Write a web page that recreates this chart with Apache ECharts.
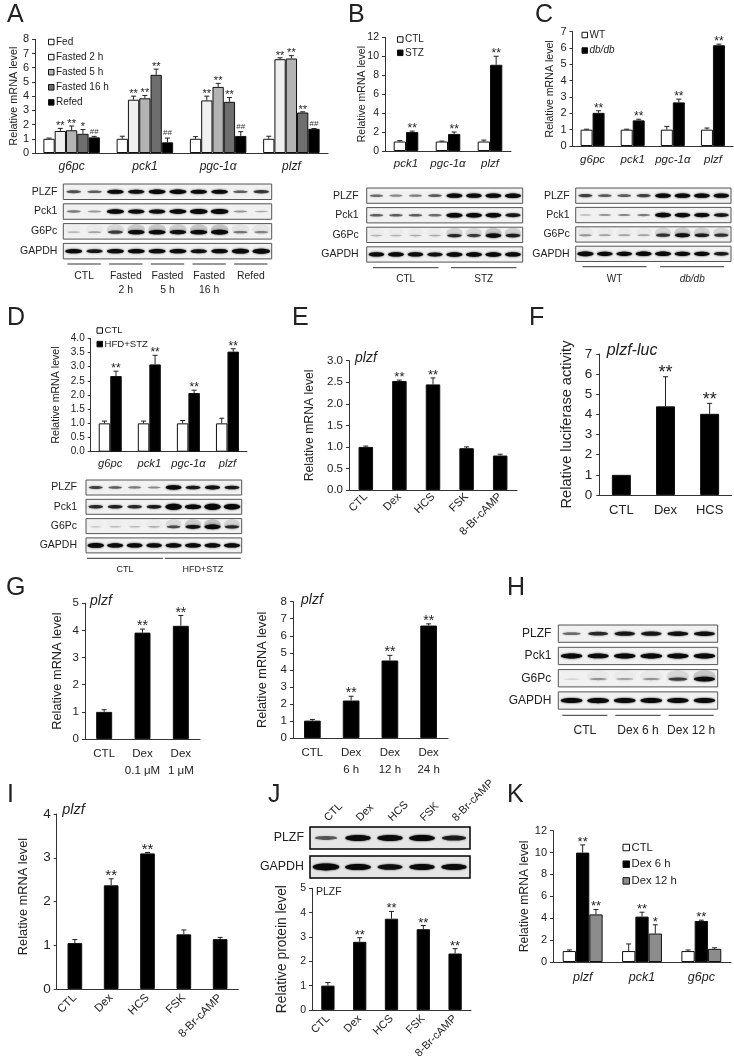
<!DOCTYPE html>
<html><head><meta charset="utf-8">
<style>html,body{margin:0;padding:0;background:#fff}#c{width:734px;height:1061px}</style>
<script src="https://cdn.jsdelivr.net/npm/echarts@6/dist/echarts.min.js"></script>
</head><body><div id="c"></div>
<script>
// ---------- DATA ----------
const genesA = ['g6pc','pck1','pgc-1α','plzf'];
const aFed = [1,1,1,1], aFedErr = [.05,.18,.15,.18];
const aF2 = [1.55,3.75,3.7,6.6], aF2Err = [.18,.25,.3,.1], aF2Sig = ['**','**','**','**'];
const aF5 = [1.6,3.85,4.65,6.65], aF5Err = [.3,.2,.25,.2], aF5Sig = ['**','**','**','**'];
const aF16 = [1.35,5.5,3.6,2.85], aF16Err = [.3,.4,.3,.05], aF16Sig = ['*','**','**','**'];
const aRefed = [1.1,.75,1.2,1.7], aRefedErr = [.07,.3,.3,.02], aRefedSig = ['##','##','##','##'];

const genesB = ['pck1','pgc-1α','plzf'];
const bCtl = [1,1,1], bCtlErr = [.1,.05,.15];
const bStz = [2,1.8,9.1], bStzErr = [.1,.2,.9], bSig = ['**','**','**'];

const genesC = ['g6pc','pck1','pgc-1α','plzf'];
const cWt = [1,1,1,1], cWtErr = [.03,.03,.2,.1];
const cDb = [2.03,1.57,2.67,6.17], cDbErr = [.13,.07,.2,.07], cSig = ['**','**','**','**'];

const dCtl = [1,1,1,1], dCtlErr = [.08,.08,.1,.18];
const dHfd = [2.67,3.08,2.07,3.53], dHfdErr = [.17,.32,.1,.1], dSig = ['**','**','**','**'];

const treatments = ['CTL','Dex','HCS','FSK','8-Br-cAMP'];
const eVals = [1,2.53,2.45,.97,.8], eErr = [.02,.02,.15,.03,.03], eSig = ['','**','**','',''];
const fCats = ['CTL','Dex','HCS'];
const fVals = [1,4.4,4.03], fErr = [0,1.47,.52], fSig = ['','**','**'];
const g1Cats = ['CTL','Dex\n0.1 μM','Dex\n1 μM'];
const g1Vals = [1,3.92,4.17], g1Err = [.08,.13,.38], g1Sig = ['','**','**'];
const g2Cats = ['CTL','Dex\n6 h','Dex\n12 h','Dex\n24 h'];
const g2Vals = [1.02,2.2,4.55,6.6], g2Err = [.07,.25,.3,.1], g2Sig = ['','**','**','**'];
const iVals = [1.05,2.37,3.1,1.25,1.14], iErr = [.08,.15,.02,.1,.04], iSig = ['','**','**','',''];
const jVals = [1,2.8,3.75,3.32,2.32], jErr = [.13,.17,.3,.15,.2], jSig = ['','**','**','**','**'];
const genesK = ['plzf','pck1','g6pc'];
const kCtl = [1,1,1], kCtlErr = [.1,.65,.1];
const kD6 = [10,4.15,3.75], kD6Err = [.7,.4,.07], kD6Sig = ['**','**','**'];
const kD12 = [4.35,2.6,1.2], kD12Err = [.45,.8,.1], kD12Sig = ['**','*',''];

const blotRows = ['PLZF','Pck1','G6Pc','GAPDH'];
const blotA = [[.45,.4,.8,.75,.85,.85,.8,.8,.4,.55],[.3,.2,.9,.8,.8,.85,1,1,.2,.12],[.08,.15,.5,.8,.85,.75,.85,.9,.3,.25],[.85,.7,.85,.85,.85,.85,.75,.8,.95,1]];
const blotB = [[.35,.25,.3,.4,.85,.8,.85,.9],[.4,.4,.4,.35,.95,.9,.85,.7],[.1,.1,.12,.12,.6,.5,.85,.65],[.8,.85,.8,.75,.9,.9,.9,.85]];
const blotC = [[.5,.4,.4,.5,.85,.85,.85,.8],[.1,.2,.25,.3,.9,.85,.8,.7],[.2,.15,.15,.15,.55,.75,.65,.55],[1,.85,.85,.9,.9,.85,.85,.7]];
const blotD = [[.5,.4,.3,.25,.85,.7,.75,.7],[.6,.65,.6,.7,1.4,1,1.4,1.2],[.05,.08,.08,.12,.45,.75,.95,.6],[.95,.9,.85,.8,.9,.9,.9,.9]];
const blotH = [[.35,.6,.7,.7,.75,.75],[.85,.8,.85,.9,.85,.85],[.02,.2,.15,.2,.5,.8],[.9,.95,.9,.9,.85,.85]];
const blotJRows = ['PLZF','GAPDH'];
const blotJ = [[.4,.8,.8,.85,.65],[.95,.85,.75,.8,.8]];
const groupsA = [[0,1,'CTL'],[2,3,'Fasted\n2 h'],[4,5,'Fasted\n5 h'],[6,7,'Fasted\n16 h'],[8,9,'Refed']];
const groupsB = [[0,3,'CTL'],[4,7,'STZ']];
const groupsC = [[0,3,'WT'],[4,7,'db/db']];
const groupsD = [[0,3,'CTL'],[4,7,'HFD+STZ']];
const groupsH = [[0,1,'CTL'],[2,3,'Dex 6 h'],[4,5,'Dex 12 h']];

// ---------- BUILDERS ----------
const FONT = 'Liberation Sans', INK = '#222';
const grid = [], xAxis = [], yAxis = [], series = [], legend = [], title = [];

function note(text, x, yc, size, italic) {
  title.push({text, left:x, top:yc-size/2, padding:0, itemGap:0,
    textStyle:{fontFamily:FONT,fontSize:size,fontWeight:'normal',fontStyle:italic?'italic':'normal',color:INK}});
}

function barPanel(p) {
  const g = grid.length, [l,t,r,b] = p.rect;
  grid.push({left:l, top:t, width:r-l, height:b-t});
  xAxis.push({type:'category', gridIndex:g, data:p.cats,
    axisLine:{lineStyle:{color:'#333'}}, axisTick:{show:false},
    axisLabel:{interval:0, fontSize:p.catFont, fontFamily:FONT, color:INK, margin:p.catMargin,
      fontStyle:p.italic?'italic':'normal', rotate:p.rotate||0, lineHeight:p.catLine||undefined, hideOverlap:false}});
  yAxis.push({type:'value', gridIndex:g, min:0, max:p.max, interval:p.step, splitLine:{show:false},
    axisLine:{show:true, lineStyle:{color:'#333'}}, axisTick:{show:true, length:3, lineStyle:{color:'#333'}},
    axisLabel:{fontSize:p.tickFont, fontFamily:FONT, color:INK, margin:p.tickMargin||6,
      formatter:v=>p.decimals?v.toFixed(p.decimals):String(v)},
    name:p.yName, nameLocation:'middle', nameRotate:90, nameMoveOverlap:false,
    nameGap:l-p.nameX-p.nameFont/2,
    nameTextStyle:{fontSize:p.nameFont, fontFamily:FONT, color:INK, padding:p.namePad||0}});
  const n = p.series.length;
  p.series.forEach((s,i)=>{
    series.push({type:'bar', name:s.name, xAxisIndex:g, yAxisIndex:g, data:s.values, barWidth:p.barW, barGap:'0%',
      itemStyle:{color:s.color, borderColor:'#111', borderWidth:1}, silent:true});
    series.push({type:'custom', xAxisIndex:g, yAxisIndex:g, z:5, silent:true,
      data:s.values.map((v,k)=>[k,v,s.errs[k]]),
      encode:{x:0,y:1},
      renderItem:(params,api)=>{
        const k=api.value(0), v=api.value(1), e=api.value(2);
        const off=(i-(n-1)/2)*p.barW, x=api.coord([k,v])[0]+off, y0=api.coord([k,v])[1], y1=api.coord([k,v+e])[1];
        const kids=[];
        const ls={stroke:'#222',lineWidth:1};
        if(e>0){
          kids.push({type:'line',shape:{x1:x,y1:y0,x2:x,y2:y1},style:ls});
          kids.push({type:'line',shape:{x1:x-2.5,y1:y1,x2:x+2.5,y2:y1},style:ls});
        }
        const sig=s.sigs&&s.sigs[k];
        if(sig){
          const hash=sig[0]==='#';
          kids.push({type:'text',style:{text:sig,x,y:y1+(hash?-5:-p.starFont*.2),align:'center',verticalAlign:'middle',
            fontFamily:FONT,fontSize:hash?8:p.starFont,fill:hash?'#333':INK}});
        }
        return {type:'group',children:kids};
      }});
  });
  if(p.legend){
    legend.push({show:true, orient:'vertical', left:p.legend.x, top:p.legend.y, padding:0, itemGap:p.legend.gap,
      itemWidth:p.legend.box, itemHeight:p.legend.box, icon:'rect', selectedMode:false, itemStyle:{borderWidth:1,borderColor:'#111'},
      textStyle:{fontFamily:FONT,fontSize:p.legend.font,color:INK,padding:[0,0,0,-3]},
      data:p.series.map(s=>s.italicName?{name:s.name,textStyle:{fontStyle:'italic'}}:{name:s.name})});
  }
}

function blot(b) {
  const g=grid.length, [l,r]=b.xr, rows=b.rows.length, pitch=b.pitch, h=b.frameH;
  const top=b.y0-(pitch-h)/2;
  grid.push({left:l, top, width:r-l, height:pitch*rows});
  const lanes=b.data[0].map((_,i)=>i);
  xAxis.push({type:'category', gridIndex:g, data:b.topLabels||lanes.map(String), position:'top',
    show:!!b.topLabels, axisLine:{show:false}, axisTick:{show:false},
    axisLabel:{interval:0,rotate:-45,fontSize:11,fontFamily:FONT,color:INK,margin:4,hideOverlap:false}});
  yAxis.push({type:'category', gridIndex:g, inverse:true, data:b.rows, axisLine:{show:false}, axisTick:{show:false},
    axisLabel:{fontSize:b.font,fontFamily:FONT,color:INK,margin:b.labelGap}});
  const cells=[];
  b.data.forEach((row,ri)=>row.forEach((v,li)=>cells.push([li,ri,v])));
  series.push({type:'custom', xAxisIndex:g, yAxisIndex:g, silent:true, data:cells, encode:{x:0,y:1},
    renderItem:(params,api)=>{
      const li=api.value(0), ri=api.value(1), v=api.value(2), c=api.coord([li,ri]), sz=api.size([1,1]), cs=params.coordSys;
      const kids=[];
      if(li===0) kids.push({type:'rect',shape:{x:cs.x,y:c[1]-h/2,width:cs.width,height:h},
        style:{fill:b.bg||'#f1f1f1',stroke:b.frame||'#555',lineWidth:b.frameW||1}});
      const alpha=Math.min(1,.12+v*1.05), dark='rgba(10,10,10,'+alpha+')';
      if(b.rows[ri]==='G6Pc') kids.push({type:'ellipse',shape:{cx:c[0],cy:c[1]-h*.12,rx:sz[0]*.42,ry:h*.34},
        style:{fill:'rgba(40,40,40,'+(v*.22)+')',shadowBlur:3,shadowColor:'rgba(40,40,40,'+(v*.2)+')'}});
      kids.push({type:'ellipse',shape:{cx:c[0],cy:c[1]+(b.rows[ri]==='G6Pc'?h*.05:0),rx:sz[0]*.42*(.72+.28*Math.min(v,1)),ry:h*(.04+.12*v)},
        style:{fill:dark,shadowBlur:2,shadowColor:dark}});
      return {type:'group',children:kids};
    }});
  if(b.groups){
    series.push({type:'custom', xAxisIndex:g, yAxisIndex:g, silent:true, data:b.groups.map((d,i)=>[d[0],d[1],i]),
      encode:{x:0},
      renderItem:(params,api)=>{
        const d=b.groups[api.value(2)], pd=b.groupPad*api.size([1,1])[0];
        const x1=api.coord([d[0],0])[0]-pd, x2=api.coord([d[1],0])[0]+pd, base=b.lineY;
        return {type:'group',children:[
          {type:'line',shape:{x1,y1:base,x2,y2:base},style:{stroke:'#333',lineWidth:1}},
          {type:'text',style:{text:d[2],x:(x1+x2)/2,y:base+b.textDy,align:'center',verticalAlign:'top',
            fontFamily:FONT,fontSize:b.groupFont,lineHeight:b.groupLine||b.groupFont+3,fill:INK,
            fontStyle:d[2]==='db/db'?'italic':'normal'}}
        ]};
      }});
  }
}

// ---------- PANELS ----------
const REL='Relative mRNA level';
barPanel({rect:[35,39.3,328,153],cats:genesA,max:8,step:1,yName:REL,nameX:14,nameFont:10.8,tickFont:11,catFont:12,italic:true,catMargin:8,barW:11.3,starFont:11,
  legend:{x:48,y:37,box:5.5,gap:5.1,font:10},
  series:[{name:'Fed',color:'#fff',values:aFed,errs:aFedErr},
    {name:'Fasted 2 h',color:'#f0f0f0',values:aF2,errs:aF2Err,sigs:aF2Sig},
    {name:'Fasted 5 h',color:'#b3b3b3',values:aF5,errs:aF5Err,sigs:aF5Sig},
    {name:'Fasted 16 h',color:'#6e6e6e',values:aF16,errs:aF16Err,sigs:aF16Sig},
    {name:'Refed',color:'#000',values:aRefed,errs:aRefedErr,sigs:aRefedSig}]});
barPanel({rect:[385,37.3,511,151],cats:genesB,max:12,step:2,yName:REL,nameX:362,nameFont:10.5,tickFont:10.5,catFont:11.5,italic:true,catMargin:7,barW:12.3,starFont:12,
  legend:{x:397,y:34.5,box:5.5,gap:3.3,font:10},
  series:[{name:'CTL',color:'#fff',values:bCtl,errs:bCtlErr},{name:'STZ',color:'#000',values:bStz,errs:bStzErr,sigs:bSig}]});
barPanel({rect:[572.5,31.7,733,146],cats:genesC,max:7,step:1,yName:REL,nameX:550.7,nameFont:10.6,tickFont:11,catFont:11.5,italic:true,catMargin:8,barW:12,starFont:12,
  legend:{x:581.5,y:30,box:5.5,gap:5.5,font:10},
  series:[{name:'WT',color:'#fff',values:cWt,errs:cWtErr},{name:'db/db',italicName:true,color:'#000',values:cDb,errs:cDbErr,sigs:cSig}]});
barPanel({rect:[90.7,338.3,247,451.7],cats:genesC,max:4,step:.5,decimals:1,yName:REL,nameX:56.7,nameFont:10.6,tickFont:10,catFont:11.2,italic:true,catMargin:7,barW:11.5,starFont:12,
  legend:{x:96.5,y:325.5,box:5.5,gap:3.6,font:9.6},
  series:[{name:'CTL',color:'#fff',values:dCtl,errs:dCtlErr},{name:'HFD+STZ',color:'#000',values:dHfd,errs:dHfdErr,sigs:dSig}]});
barPanel({rect:[349,360.7,517,490],cats:treatments,max:3,step:.5,decimals:1,yName:REL,nameX:310,nameFont:12.2,tickFont:11.5,catFont:11.2,rotate:45,catMargin:5,barW:14.5,starFont:13,
  series:[{name:'plzf E',color:'#000',values:eVals,errs:eErr,sigs:eSig}]});
barPanel({rect:[599.3,354,731.7,495],cats:fCats,max:7,step:1,yName:'Relative luciferase activity',nameX:566.7,nameFont:14.6,tickFont:13.5,catFont:13,catMargin:9,barW:19,starFont:18,tickMargin:7,
  series:[{name:'plzf F',color:'#000',values:fVals,errs:fErr,sigs:fSig}]});
barPanel({rect:[85,603.3,200,739],cats:g1Cats,max:5,step:1,yName:REL,nameX:57.3,nameFont:12.8,tickFont:11.5,catFont:11.5,catLine:17,catMargin:6,barW:16,starFont:14,
  series:[{name:'plzf G1',color:'#000',values:g1Vals,errs:g1Err,sigs:g1Sig}]});
barPanel({rect:[293,601.7,448,738],cats:g2Cats,max:8,step:1,yName:REL,nameX:262.3,nameFont:12.7,tickFont:11.5,catFont:11.5,catLine:17,catMargin:6,barW:16.7,starFont:14,
  series:[{name:'plzf G2',color:'#000',values:g2Vals,errs:g2Err,sigs:g2Sig}]});
barPanel({rect:[56.7,814,238.3,989],cats:treatments,max:4,step:1,yName:REL,nameX:23.3,nameFont:12.8,namePad:[0,0,0,10],tickFont:13.5,catFont:11.5,rotate:45,catMargin:7,barW:14.7,starFont:15,
  series:[{name:'plzf I',color:'#000',values:iVals,errs:iErr,sigs:iSig}]});
barPanel({rect:[312,888.3,471,1011],cats:treatments,max:5,step:1,yName:'Relative protein level',nameX:282.7,nameFont:13.8,tickFont:10.5,catFont:11,rotate:45,catMargin:7,barW:13.3,starFont:13,
  series:[{name:'PLZF J',color:'#000',values:jVals,errs:jErr,sigs:jSig}]});
barPanel({rect:[553,830.7,731,962],cats:genesK,max:12,step:2,yName:REL,nameX:525,nameFont:12.2,tickFont:11,catFont:12.5,italic:true,catMargin:9,barW:13.3,starFont:13,
  legend:{x:622.5,y:842,box:6.5,gap:5.7,font:11.3},
  series:[{name:'CTL',color:'#fff',values:kCtl,errs:kCtlErr},
    {name:'Dex 6 h',color:'#000',values:kD6,errs:kD6Err,sigs:kD6Sig},
    {name:'Dex 12 h',color:'#8c8c8c',values:kD12,errs:kD12Err,sigs:kD12Sig}]});

blot({xr:[63.3,271.7],y0:184,frameH:15.5,pitch:19.8,rows:blotRows,data:blotA,font:10.5,labelGap:6,groups:groupsA,groupPad:.3,lineY:264,textDy:5,groupFont:10.4,groupLine:14});
blot({xr:[366.7,522.7],y0:188,frameH:15.3,pitch:19.6,rows:blotRows,data:blotB,font:10.5,labelGap:8,groups:groupsB,groupPad:.18,lineY:267.7,textDy:5,groupFont:10});
blot({xr:[575.7,731],y0:188,frameH:15.3,pitch:19.4,rows:blotRows,data:blotC,font:10.5,labelGap:6,groups:groupsC,groupPad:.15,lineY:266.7,textDy:6,groupFont:10});
blot({xr:[86,241.7],y0:480,frameH:15,pitch:19.3,rows:blotRows,data:blotD,font:10.5,labelGap:9,groups:groupsD,groupPad:.45,lineY:558.3,textDy:5,groupFont:9});
blot({xr:[558.3,717.7],y0:625,frameH:17.3,pitch:22.3,rows:blotRows,data:blotH,font:12,labelGap:7,groups:groupsH,groupPad:.35,lineY:715.3,textDy:8,groupFont:12});
blot({xr:[310,470],y0:827,frameH:22,pitch:29,rows:blotJRows,data:blotJ,font:12.4,labelGap:6,topLabels:treatments,frame:'#000',frameW:1.5,bg:'#e6e6e6'});

// ---------- TEXT ----------
[['A',7,15.5],['B',348,15.5],['C',535,15.5],['D',7,318],['E',292,318],['F',529,318],['G',6,588],['H',507,588],['I',7,795],['J',268,795],['K',507,795]]
  .forEach(t=>note(t[0],t[1],t[2],25,false));
note('plzf',355,358,14,true);
note('plzf-luc',606.7,351,16,true);
note('plzf',90,601,14,true);
note('plzf',301,600,14,true);
note('plzf',62.3,810,14.5,true);
note('PLZF',316,891.7,10.5,false);

const chart = echarts.init(document.getElementById('c'),null,{renderer:'canvas'});
chart.setOption({animation:false,backgroundColor:'#fff',textStyle:{fontFamily:FONT},title,legend,grid,xAxis,yAxis,series});
</script></body></html>
